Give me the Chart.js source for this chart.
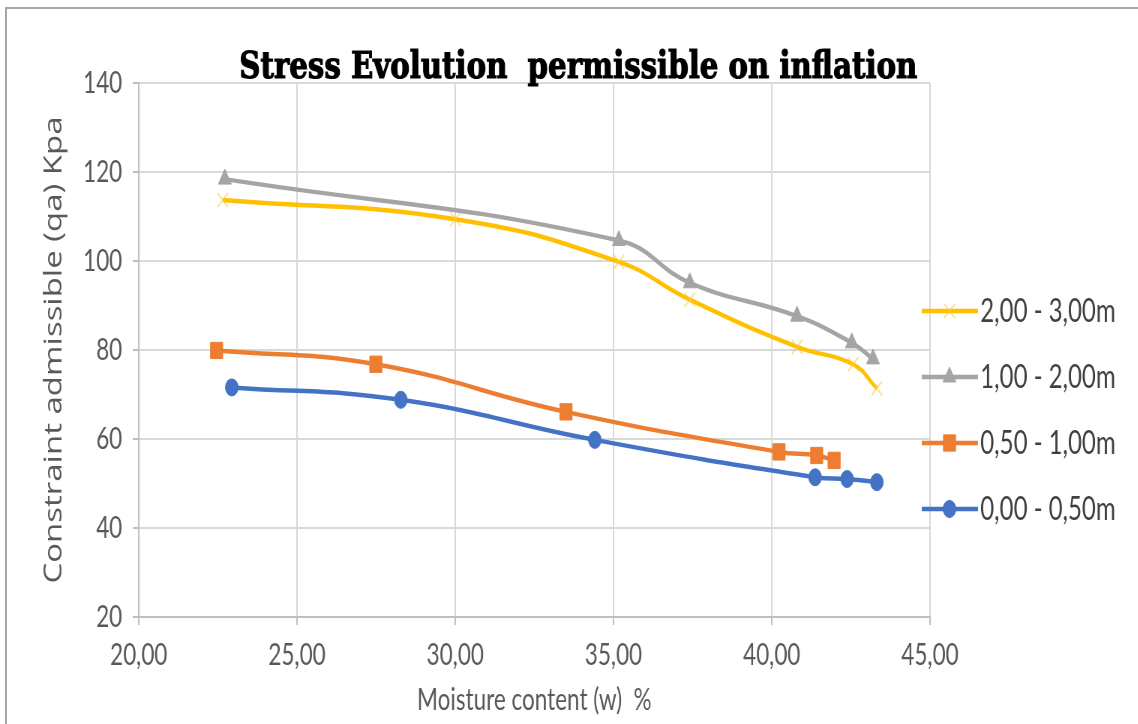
<!DOCTYPE html>
<html>
<head>
<meta charset="utf-8">
<script src="https://cdn.jsdelivr.net/npm/chart.js@4/dist/chart.umd.min.js"></script>
<style>
  html, body { margin: 0; padding: 0; background: #fff; overflow: hidden; }
  #cadre { position: absolute; left: 5px; top: 7px; width: 1140px; height: 720px;
           border-top: 2px solid #a6a6a6; border-left: 2px solid #a6a6a6; }
  /* le dessin d'origine est écrasé horizontalement : on dessine large puis on comprime */
  #zone { position: absolute; left: 0; top: 0; width: 1517px; height: 724px;
          transform: scaleX(0.75); transform-origin: 0 0; }
</style>
</head>
<body>
<div id="cadre"></div>
<div id="zone"><canvas id="grafico" width="1517" height="724"></canvas></div>
<script>
const titulo = "Stress Evolution  permissible on inflation";
const tituloX = "Moisture content (w)  %";
const tituloY = "Constraint admissible (qa) Kpa";

const series = ["0,00 - 0,50m", "0,50 - 1,00m", "1,00 - 2,00m", "2,00 - 3,00m"];

// 0,00 - 0,50m
const w1 = [22.94, 28.28, 34.41, 41.37, 42.38, 43.32];
const qa1 = [71.6, 68.8, 59.8, 51.4, 51.0, 50.3];
// 0,50 - 1,00m
const w2 = [22.46, 27.49, 33.50, 40.23, 41.42, 41.97];
const qa2 = [79.9, 76.8, 66.1, 57.1, 56.3, 55.2];
// 1,00 - 2,00m
const w3 = [22.72, 35.17, 37.41, 40.80, 42.53, 43.20];
const qa3 = [118.4, 104.6, 95.1, 87.6, 81.6, 78.0];
// 2,00 - 3,00m
const w4 = [22.65, 30.00, 35.17, 37.41, 40.80, 42.57, 43.32];
const qa4 = [113.7, 109.4, 99.8, 91.3, 80.7, 76.8, 71.4];

const xTicks = [20, 25, 30, 35, 40, 45];
const yTicks = [20, 40, 60, 80, 100, 120, 140];

const couleurs = ["#4472C4", "#ED7D31", "#A5A5A5", "#FFC000"];
const marqueurs = ["circle", "rect", "triangle", "crossRot"];
const tailles = [8.5, 11.5, 10, 10];

function points(xs, ys) {
  return xs.map((x, i) => ({ x: x, y: ys[i] }));
}

const donnees = [points(w1, qa1), points(w2, qa2), points(w3, qa3), points(w4, qa4)];

const datasets = donnees.map((d, i) => ({
  label: series[i],
  data: d,
  borderColor: couleurs[i],
  borderWidth: 4.5,
  tension: 0.45,
  pointStyle: marqueurs[i],
  pointRadius: tailles[i],
  pointBackgroundColor: couleurs[i],
  pointBorderColor: i === 3 ? "rgba(255,200,60,0.55)" : couleurs[i],
  pointBorderWidth: i === 3 ? 2 : 1
}));

const texteGris = "#595959";

const decor = {
  id: "decor",
  afterDraw(chart) {
    const ctx = chart.ctx;
    // titre
    ctx.save();
    ctx.font = 'bold 38px "DejaVu Serif"';
    ctx.fillStyle = "#000";
    ctx.textAlign = "center";
    ctx.textBaseline = "alphabetic";
    const largeur = ctx.measureText(titulo).width;
    ctx.translate(771, 78);
    ctx.scale(904 / largeur, 1);
    ctx.lineWidth = 1.2;
    ctx.strokeStyle = "#000";
    ctx.strokeText(titulo, 0, 0);
    ctx.fillText(titulo, 0, 0);
    ctx.restore();

    // légende (ordre inversé)
    const ys = [311, 377, 443, 509];
    ctx.save();
    ctx.font = '32px Lato';
    ctx.textBaseline = "middle";
    ctx.textAlign = "left";
    for (let k = 0; k < 4; k++) {
      const i = 3 - k;
      const y = ys[k];
      ctx.strokeStyle = couleurs[i];
      ctx.lineWidth = 4.5;
      ctx.beginPath();
      ctx.moveTo(1229, y);
      ctx.lineTo(1304, y);
      ctx.stroke();
      ctx.fillStyle = couleurs[i];
      ctx.strokeStyle = i === 3 ? "rgba(255,200,60,0.55)" : couleurs[i];
      ctx.lineWidth = i === 3 ? 2 : 1;
      Chart.helpers.drawPoint(ctx, { pointStyle: marqueurs[i], radius: tailles[i], rotation: 0, borderWidth: ctx.lineWidth }, 1266, y);
      ctx.fillStyle = "#404040";
      ctx.fillText(series[i], 1307, y + 1);
    }
    ctx.restore();
  }
};

new Chart(document.getElementById("grafico").getContext("2d"), {
  type: "line",
  data: { datasets: datasets },
  plugins: [decor],
  options: {
    responsive: false,
    animation: false,
    devicePixelRatio: 1,
    layout: { padding: { left: 53, right: 277, top: 83, bottom: 0 } },
    plugins: { legend: { display: false }, title: { display: false }, tooltip: { enabled: false } },
    scales: {
      x: {
        type: "linear",
        min: 20, max: 45,
        afterBuildTicks: s => { s.ticks = xTicks.map(v => ({ value: v })); },
        afterFit: s => { s.height = 107; },
        grid: { color: "#d9d9d9", lineWidth: 2, tickLength: 8, tickColor: "#bfbfbf" },
        border: { color: "#bfbfbf", width: 2 },
        ticks: {
          color: texteGris, font: { family: "Lato", size: 30 }, padding: 12,
          callback: v => v.toFixed(2).replace(".", ",")
        },
        title: {
          display: true, text: tituloX, color: texteGris,
          font: { family: "Lato", size: 30 }, padding: { top: 0, bottom: 6 }
        }
      },
      y: {
        min: 20, max: 140,
        afterBuildTicks: s => { s.ticks = yTicks.map(v => ({ value: v })); },
        afterFit: s => { s.width = 132; },
        grid: { color: "#d9d9d9", lineWidth: 2, tickLength: 8, tickColor: "#bfbfbf" },
        border: { color: "#bfbfbf", width: 2 },
        ticks: { color: texteGris, font: { family: "Lato", size: 30 }, padding: 14 },
        title: {
          display: true, text: tituloY, color: texteGris,
          font: { family: "Open Sans", size: 33 }, padding: 0
        }
      }
    }
  }
});
</script>
</body>
</html>
